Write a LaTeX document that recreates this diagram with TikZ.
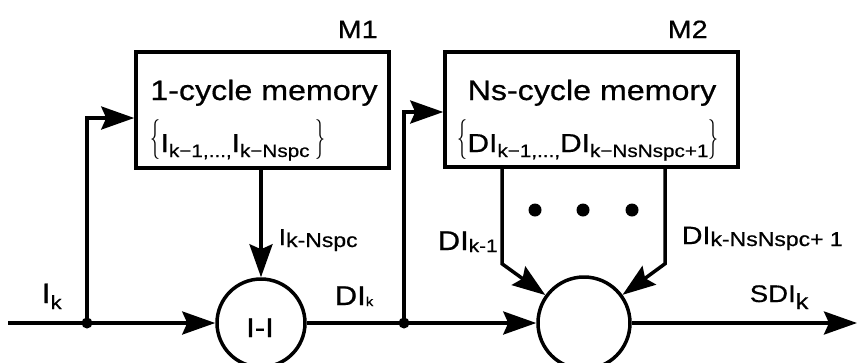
\documentclass[tikz,border=0pt]{standalone}
\usepackage{fontspec}
\usepackage{graphicx}
\setmainfont{Liberation Sans}[FakeStretch=1.15,FakeBold=0.6]
\usetikzlibrary{arrows.meta}
\newcommand{\fs}[1]{\fontsize{#1}{#1}\selectfont}
\newcommand{\sbs}[3]{\raisebox{-#1pt}{\fs{#2}#3}}
\newcommand{\lbr}{\raisebox{3pt}{\scalebox{0.8}[1.6]{$\{$}}}
\newcommand{\rbr}{\raisebox{3pt}{\scalebox{0.8}[1.6]{$\}$}}}
\begin{document}
\begin{tikzpicture}[x=1pt,y=-1pt,line width=3.5pt,
  arr/.style={-{Stealth[length=33pt,width=23pt,inset=5pt]}},
  membox/.style={draw,line width=3.5pt,minimum width=253pt,minimum height=116pt,inner sep=0pt},
  jdot/.style={circle,fill,inner sep=0pt,minimum size=11pt},
  ddot/.style={circle,fill,inner sep=0pt,minimum size=13pt},
  opnode/.style={circle,draw,line width=3.5pt,inner sep=0pt,minimum size=#1},
  lab/.style={anchor=base west,inner sep=0pt}]
\useasboundingbox (0,0) rectangle (857,362);
\clip (0,0) rectangle (857,362);
% boxes
\node[membox] (m1) at (262.5,110) {};
\node[membox,minimum width=293pt,minimum height=115pt] (m2) at (591.5,109.5) {};
\node[anchor=base,inner sep=0pt] (t1) at (264,100) {\fs{28}1-cycle memory};
\node[anchor=base,inner sep=0pt] (t2) at (592,100) {\fs{28}Ns-cycle memory};
\node[anchor=base,inner sep=0pt] (s1) at (238,152) {\fs{26}\lbr I\sbs{5}{18}{k−1,...,}I\sbs{5}{18}{k−Nspc }\rbr};
\node[anchor=base,inner sep=0pt] (s2) at (588,152) {\fs{26}\lbr DI\sbs{5}{18}{k−1,...,}DI\sbs{5}{18}{k−NsNspc+1}\rbr};
\node[lab] (lm1) at (336,38) {\fs{25}M1};
\node[lab] (lm2) at (666,38) {\fs{25}M2};
% operators and junctions
\coordinate (start) at (8,323);
\coordinate (out) at (857,323);
\node[jdot] (j1) at (87,323) {};
\node[jdot] (j2) at (404,323) {};
\node[opnode=88pt] (c1) at (261,323) {};
\node[anchor=base,inner sep=0pt] (op1) at (260,337) {\fs{27}I-I};
\node[opnode=92pt] (c2) at (584,323) {};
\node[ddot] (d1) at (535,210) {};
\node[ddot] (d2) at (583,210) {};
\node[ddot] (d3) at (632,210) {};
% connectors
\draw[arr] (start) -- (c1);
\draw[arr] (j1.center) |- ([yshift=-8pt]m1.west);
\draw[arr] (c1 |- m1.south) -- (c1);
\draw[arr] (c1) -- (c2);
\draw[arr] (j2.center) |- ([yshift=-2.5pt]m2.west);
\draw[arr] (c2) -- (out);
\draw[arr] ([xshift=-89.5pt]m2.south) -- ++(0,95) -- (c2);
\draw[arr] ([xshift=73.5pt]m2.south) -- ++(0,95) -- (c2);
% labels
\node[lab] (lik) at (40,303) {\fs{28}I\sbs{6}{19}{k}};
\node[lab] (ldik) at (333,305) {\fs{27}DI\sbs{1}{13}{k}};
\node[lab] (likn) at (277,245) {\fs{23}I\sbs{2}{20}{k-Nspc}};
\node[lab] (ldik1) at (436,250) {\fs{27}DI\sbs{2}{18}{k-1}};
\node[lab] (ldikn) at (680,244) {\fs{25}DI\sbs{2}{20}{k-NsNspc+ 1}};
\node[lab] (lsdik) at (748,302) {\fs{24}SDI\sbs{7}{22}{k}};
\end{tikzpicture}
\end{document}
